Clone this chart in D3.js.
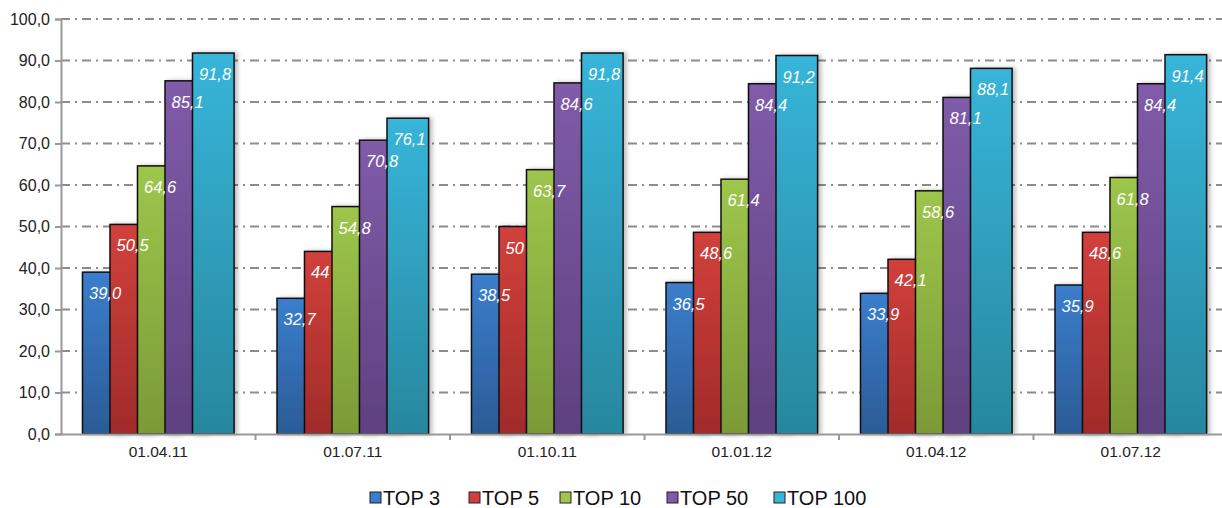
<!DOCTYPE html>
<html>
<head>
<meta charset="utf-8">
<title>TOP bars</title>
<script src="https://d3js.org/d3.v7.min.js"></script>
<style>
  body { margin: 0; background: #fff; }
  svg text { font-family: "Liberation Sans", Arial, sans-serif; }
</style>
</head>
<body>
<div id="chart"></div>
<script>
// data
var categories = ["01.04.11", "01.07.11", "01.10.11", "01.01.12", "01.04.12", "01.07.12"];
var seriesNames = ["TOP 3", "TOP 5", "TOP 10", "TOP 50", "TOP 100"];
var top3   = [39.0, 32.7, 38.5, 36.5, 33.9, 35.9];
var top5   = [50.5, 44, 50, 48.6, 42.1, 48.6];
var top10  = [64.6, 54.8, 63.7, 61.4, 58.6, 61.8];
var top50  = [85.1, 70.8, 84.6, 84.4, 81.1, 84.4];
var top100 = [91.8, 76.1, 91.8, 91.2, 88.1, 91.4];
var labels3   = ["39,0", "32,7", "38,5", "36,5", "33,9", "35,9"];
var labels5   = ["50,5", "44", "50", "48,6", "42,1", "48,6"];
var labels10  = ["64,6", "54,8", "63,7", "61,4", "58,6", "61,8"];
var labels50  = ["85,1", "70,8", "84,6", "84,4", "81,1", "84,4"];
var labels100 = ["91,8", "76,1", "91,8", "91,2", "88,1", "91,4"];
var yTicks = [0, 10, 20, 30, 40, 50, 60, 70, 80, 90, 100];

var values = [top3, top5, top10, top50, top100];
var valueLabels = [labels3, labels5, labels10, labels50, labels100];
var colorsTop = ["#3b7ecd", "#d2403c", "#9ec64b", "#805ba9", "#37b5d9"];
var colorsBottom = ["#2b5b96", "#a02b29", "#7a9a37", "#5e4180", "#27879e"];

var W = 1222, H = 508;
var left = 61, plotTop = 19, plotBottom = 434;

var svg = d3.select("#chart").append("svg")
    .attr("width", W).attr("height", H);

var defs = svg.append("defs");
seriesNames.forEach(function(s, i) {
  var g = defs.append("linearGradient").attr("id", "grad" + i)
      .attr("x1", 0).attr("y1", 0).attr("x2", 0).attr("y2", 1);
  g.append("stop").attr("offset", "0%").attr("stop-color", colorsTop[i]);
  g.append("stop").attr("offset", "100%").attr("stop-color", colorsBottom[i]);
});
var f = defs.append("filter").attr("id", "shadow")
    .attr("x", "-20%").attr("y", "-10%").attr("width", "150%").attr("height", "120%");
f.append("feDropShadow").attr("dx", 3).attr("dy", 0).attr("stdDeviation", 2)
    .attr("flood-color", "#000").attr("flood-opacity", 0.25);

var x0 = d3.scaleBand().domain(categories).range([left, left + 6 * 194.5]);
var x1 = d3.scalePoint().domain(seriesNames).range([21.5, 21.5 + 4 * 27.5]);
var barW = 41.6;
var y = d3.scaleLinear().domain([0, 100]).range([plotBottom, plotTop]);

// gridlines
svg.append("g").selectAll("line").data(yTicks.filter(function(d) { return d > 0; }))
  .enter().append("line")
    .attr("x1", left).attr("x2", W)
    .attr("y1", function(d) { return y(d); }).attr("y2", function(d) { return y(d); })
    .attr("stroke", "#8c8c8c").attr("stroke-width", 2)
    .attr("stroke-dasharray", "9,5,2,5");

// bars
var groups = svg.append("g").selectAll("g").data(categories).enter().append("g")
    .attr("transform", function(c) { return "translate(" + x0(c) + ",0)"; });

seriesNames.forEach(function(s, si) {
  groups.append("rect")
    .attr("x", x1(s))
    .attr("y", function(c, ci) { return y(values[si][ci]); })
    .attr("width", barW)
    .attr("height", function(c, ci) { return plotBottom - y(values[si][ci]); })
    .attr("fill", "url(#grad" + si + ")")
    .attr("stroke", "#111")
    .attr("stroke-width", 1.5)
    .attr("filter", "url(#shadow)");
});

// value labels on top of all bars
seriesNames.forEach(function(s, si) {
  groups.append("text")
    .attr("x", x1(s) + 6.5)
    .attr("y", function(c, ci) { return y(values[si][ci]) + 27; })
    .attr("fill", "#fff")
    .attr("font-size", "16.5px")
    .attr("font-style", "italic")
    .text(function(c, ci) { return valueLabels[si][ci]; });
});

// y axis
var yAxis = svg.append("g").attr("transform", "translate(" + left + ",0)")
  .call(d3.axisLeft(y).tickValues(yTicks).tickSize(6).tickPadding(5)
        .tickFormat(function(d) { return d3.format(".1f")(d).replace(".", ","); }));
yAxis.select(".domain").attr("stroke", "#999").attr("stroke-width", 2);
yAxis.selectAll(".tick line").attr("stroke", "#999").attr("stroke-width", 2);
yAxis.selectAll("text").attr("font-size", "16px").attr("fill", "#222")
    .attr("font-family", "Liberation Sans, Arial, sans-serif");

// x axis
var xAxis = svg.append("g").attr("transform", "translate(0," + plotBottom + ")")
  .call(d3.axisBottom(x0).tickSize(0).tickPadding(12));
xAxis.select(".domain").attr("stroke", "#999").attr("stroke-width", 2);
xAxis.selectAll("text").attr("font-size", "15.5px").attr("fill", "#222")
    .attr("font-family", "Liberation Sans, Arial, sans-serif");
xAxis.selectAll(".sep").data(categories).enter().append("line")
    .attr("x1", function(c) { return x0(c) + x0.bandwidth(); })
    .attr("x2", function(c) { return x0(c) + x0.bandwidth(); })
    .attr("y1", 0).attr("y2", 6)
    .attr("stroke", "#999").attr("stroke-width", 2);

// legend
var legendX = [370, 469, 560, 667, 774];
var legend = svg.append("g").selectAll("g").data(seriesNames).enter().append("g")
    .attr("transform", function(d, i) { return "translate(" + legendX[i] + ",492)"; });
legend.append("rect")
    .attr("width", 11).attr("height", 11)
    .attr("fill", function(d, i) { return colorsTop[i]; })
    .attr("stroke", "#222").attr("stroke-width", 1);
legend.append("text")
    .attr("x", 13).attr("y", 13)
    .attr("font-size", "20px").attr("fill", "#111")
    .text(function(d) { return d; });
</script>
</body>
</html>
